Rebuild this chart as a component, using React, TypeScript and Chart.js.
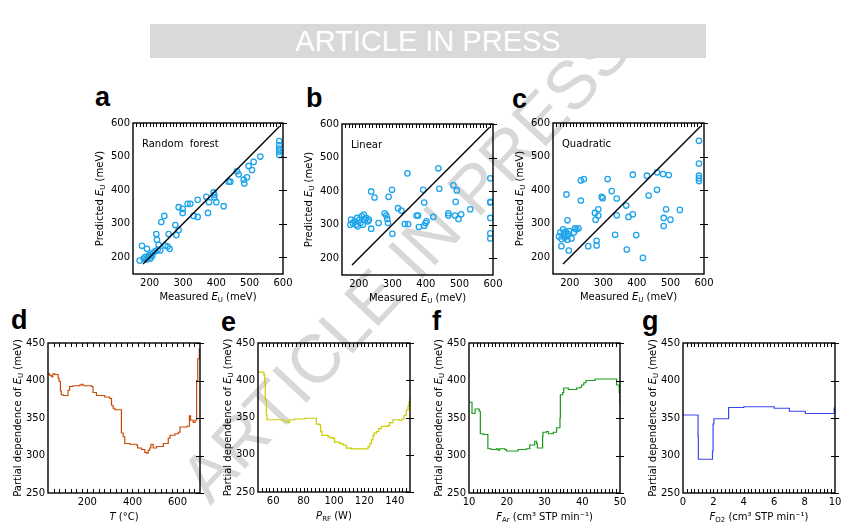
import React, { useEffect, useRef } from 'react'
import { Chart, registerables } from 'chart.js'

Chart.register(...registerables)

const FONT = '"DejaVu Sans", Verdana, sans-serif'

// a: random forest, measured vs predicted E_U (meV)
const aMeasured = [170, 182, 187, 190, 194, 197, 202, 204, 207, 210, 217, 224, 177, 192, 232, 247, 254, 260, 220, 222, 227, 235, 244, 257, 277, 280, 287, 287, 299, 299, 314, 322, 332, 344, 344, 370, 375, 378, 392, 394, 394, 400, 422, 437, 442, 462, 467, 482, 484, 492, 497, 507, 512, 532, 589, 589, 589, 589, 589]
const aPredicted = [190, 196, 201, 193, 198, 205, 196, 208, 203, 213, 218, 222, 234, 225, 220, 235, 232, 225, 269, 252, 237, 305, 323, 269, 296, 266, 281, 349, 344, 332, 359, 359, 323, 320, 371, 380, 332, 364, 393, 386, 378, 364, 352, 425, 425, 456, 447, 431, 420, 438, 472, 460, 484, 500, 546, 534, 524, 515, 505]

// b: linear
const bMeasured = [175, 177, 182, 187, 192, 195, 197, 202, 205, 209, 212, 215, 217, 222, 227, 230, 237, 247, 237, 259, 277, 282, 285, 287, 289, 299, 300, 317, 327, 345, 337, 347, 372, 377, 379, 392, 395, 395, 399, 402, 422, 437, 440, 467, 467, 482, 487, 489, 492, 497, 505, 532, 592, 592, 592, 592, 592, 592]
const bPredicted = [300, 315, 305, 310, 300, 320, 295, 315, 305, 325, 300, 330, 315, 320, 310, 315, 399, 381, 288, 305, 334, 327, 317, 305, 383, 404, 273, 349, 342, 453, 302, 302, 327, 327, 293, 404, 366, 297, 305, 310, 323, 468, 407, 334, 327, 417, 327, 368, 402, 317, 331, 346, 438, 368, 366, 320, 274, 259]

// c: quadratic
const cMeasured = [168, 172, 175, 180, 182, 185, 188, 190, 193, 195, 198, 175, 190, 193, 197, 205, 212, 215, 220, 226, 233, 242, 233, 255, 275, 277, 280, 280, 285, 285, 295, 298, 313, 325, 335, 340, 340, 368, 375, 370, 388, 388, 398, 418, 430, 435, 460, 460, 478, 495, 480, 480, 487, 500, 528, 585, 585, 585, 585, 585]
const cPredicted = [262, 274, 254, 283, 269, 259, 276, 264, 252, 269, 278, 233, 387, 310, 220, 256, 274, 286, 283, 286, 429, 433, 369, 233, 332, 312, 249, 235, 343, 324, 380, 376, 433, 397, 267, 375, 325, 354, 320, 223, 328, 446, 266, 198, 443, 384, 453, 401, 448, 445, 317, 293, 343, 312, 341, 547, 479, 443, 435, 427]

const identityLine = [180, 590]
const scatterTicks = [200, 300, 400, 500, 600]
const pdTicks = [250, 300, 350, 400, 450]

// d: partial dependence on T (°C)
const dTemp = [25, 32, 40, 47, 55, 59, 70, 74, 80, 84, 92, 107, 114, 121, 136, 166, 173, 181, 218, 225, 240, 255, 277, 299, 307, 314, 322, 344, 347, 351, 359, 366, 388, 418, 423, 440, 455, 463, 470, 477, 482, 492, 507, 515, 537, 552, 559, 567, 589, 604, 611, 641, 653, 658, 670, 678, 685, 690, 697, 700]
const dPD = [409, 407, 405, 409, 408, 408, 403, 399, 386, 381, 380, 380, 387, 392, 393, 394, 395, 393, 392, 384, 380, 380, 378, 376, 367, 363, 361, 361, 361, 330, 325, 316, 315, 314, 310, 308, 304, 303, 307, 310, 315, 310, 312, 312, 316, 316, 323, 327, 329, 331, 338, 339, 353, 347, 344, 347, 400, 429, 442, 443]
const dTicks = [200, 400, 600]

// e: partial dependence on P_RF (W)
const ePower = [50, 52.9, 53.9, 54.4, 54.8, 55.5, 55.9, 66.4, 67.5, 69.7, 70.8, 74.1, 77.4, 80.7, 87.3, 88.4, 90.6, 91.2, 92.1, 96.1, 97.1, 99.3, 100.4, 101.5, 103.7, 105.9, 108.1, 111.4, 121.3, 122.4, 123.5, 124.6, 125.7, 126.3, 127.9, 129.4, 131.1, 135.5, 136.6, 138.8, 143.2, 144.7, 146.1, 147.6, 148.7, 149.3, 150]
const ePD = [411, 411, 407, 398, 374, 353, 347, 346, 345, 343, 347, 348, 348, 349, 349, 341, 340, 331, 326, 324, 323, 322, 317, 317, 315, 313, 309, 308, 308, 311, 315, 320, 326, 329, 331, 335, 338, 339, 343, 347, 346, 348, 353, 360, 365, 371, 380]
const eTicks = [60, 80, 100, 120, 140]

// f: partial dependence on F_Ar
const fAr = [10, 10.8, 11.6, 12.7, 13.0, 13.8, 15.0, 15.9, 17.3, 17.7, 18.1, 19.5, 19.9, 23.0, 24.8, 25.2, 26.1, 27.4, 27.9, 28.1, 29.5, 29.6, 30.5, 31.0, 31.9, 32.3, 33.2, 34.1, 34.2, 34.8, 35.1, 35.8, 36.3, 38.1, 38.5, 39.4, 39.8, 40.4, 41.0, 43.4, 49.1, 49.8, 50]
const fPD = [371, 356, 362, 359, 329, 328, 309, 308, 309, 307, 309, 308, 306, 308, 308, 309, 314, 319, 316, 310, 326, 331, 332, 329, 329, 331, 337, 350, 381, 384, 390, 390, 388, 388, 390, 391, 394, 397, 400, 402, 394, 384, 368]
const fTicks = [10, 20, 30, 40, 50]

// g: partial dependence on F_O2
const gO2 = [0, 0.99, 1.01, 1.94, 1.98, 2.03, 3.0, 4.0, 6.0, 7.0, 8.05, 9.95, 10]
const gPD = [354, 325, 295, 306, 342, 349, 364, 365, 363, 359, 356, 363, 365]
const gTicks = [0, 2, 4, 6, 8, 10]

type Seg = { t: string; it?: boolean; sub?: boolean }

const EU: Seg[] = [{ t: 'E', it: true }, { t: 'U', sub: true }]
const meas: Seg[] = [{ t: 'Measured ' }, ...EU, { t: ' (meV)' }]
const pred: Seg[] = [{ t: 'Predicted ' }, ...EU, { t: ' (meV)' }]
const partial: Seg[] = [{ t: 'Partial dependence of ' }, ...EU, { t: ' (meV)' }]

const TXT = 10

function segFont(s: Seg) {
  return `${s.it ? 'italic ' : ''}${s.sub ? 7 : TXT}px ${FONT}`
}

function drawRich(ctx: CanvasRenderingContext2D, segs: Seg[], cx: number, cy: number) {
  let w = 0
  for (const s of segs) { ctx.font = segFont(s); w += ctx.measureText(s.t).width }
  let x = cx - w / 2
  ctx.textAlign = 'left'
  ctx.textBaseline = 'middle'
  for (const s of segs) {
    ctx.font = segFont(s)
    ctx.fillText(s.t, x, cy + (s.sub ? 3 : 0))
    x += ctx.measureText(s.t).width
  }
}

// tick positions for the inward minor ticks
function minorSteps(min: number, max: number, step: number) {
  const out: number[] = []
  const n = Math.round((max - min) / step)
  for (let i = 1; i < n; i++) out.push(min + i * step)
  return out
}

type Frame = {
  minor: number[]
  bottomMinor: boolean
  yTicks: number[]
  xTitle: Seg[]
  yTitle: Seg[]
  xTitleOff: number
  yTitleOff: number
  inner?: string
}

// box, inward minor ticks, crossing ticks on the right, axis titles
function framePlugin(o: Frame) {
  return {
    id: 'frame',
    afterDraw(chart: any) {
      const ctx: CanvasRenderingContext2D = chart.ctx
      const { left, top, right, bottom } = chart.chartArea
      const xsc = chart.scales.x
      const ysc = chart.scales.y
      ctx.save()
      ctx.strokeStyle = '#000'
      ctx.lineWidth = 1
      ctx.beginPath()
      for (const v of o.minor) {
        const px = Math.round(xsc.getPixelForValue(v)) + 0.5
        ctx.moveTo(px, top)
        ctx.lineTo(px, top + 4)
      }
      ctx.stroke()
      if (o.bottomMinor) {
        ctx.beginPath()
        for (const v of o.minor) {
          const px = Math.round(xsc.getPixelForValue(v)) + 0.5
          ctx.moveTo(px, bottom)
          ctx.lineTo(px, bottom - 4)
        }
        ctx.stroke()
      }
      ctx.beginPath()
      for (const v of o.yTicks) {
        const py = Math.round(ysc.getPixelForValue(v)) + 0.5
        ctx.moveTo(right - 4, py)
        ctx.lineTo(right + 4, py)
      }
      ctx.stroke()
      ctx.lineWidth = 1.4
      ctx.strokeRect(left, top, right - left, bottom - top)
      ctx.fillStyle = '#000'
      drawRich(ctx, o.xTitle, (left + right) / 2, bottom + o.xTitleOff)
      if (o.inner) {
        ctx.font = `${TXT}px ${FONT}`
        ctx.textAlign = 'left'
        ctx.textBaseline = 'middle'
        ctx.fillText(o.inner, left + 9, top + 21)
      }
      ctx.translate(left - o.yTitleOff, (top + bottom) / 2)
      ctx.rotate(-Math.PI / 2)
      drawRich(ctx, o.yTitle, 0, 0)
      ctx.restore()
    }
  }
}

const PAD_L = 50, PAD_T = 10, PAD_R = 15, PAD_B = 40

function axis(min: number, max: number, ticks: number[], isX: boolean) {
  return {
    type: 'linear',
    min, max,
    afterBuildTicks: (s: any) => { s.ticks = ticks.map(v => ({ value: v })) },
    afterFit: (s: any) => {
      if (isX) s.height = PAD_B; else s.width = PAD_L
      s.paddingLeft = 0; s.paddingRight = 0; s.paddingTop = 0; s.paddingBottom = 0
    },
    grid: { display: false, drawTicks: false },
    border: { display: false },
    ticks: { padding: 3, color: '#000', font: { family: FONT, size: TXT }, maxRotation: 0, autoSkip: false }
  }
}

type Opts = {
  datasets: any[]
  x: [number, number, number[]]
  y: [number, number, number[]]
  frame: Frame
}

function makeConfig(type: string, o: Opts) {
  return {
    type,
    data: { datasets: o.datasets },
    options: {
      responsive: false,
      animation: false,
      events: [],
      layout: { padding: { left: 0, top: PAD_T, right: PAD_R, bottom: 0 } },
      scales: {
        x: axis(o.x[0], o.x[1], o.x[2], true),
        y: axis(o.y[0], o.y[1], o.y[2], false)
      },
      plugins: { legend: { display: false }, tooltip: { enabled: false } }
    },
    plugins: [framePlugin(o.frame)]
  }
}

function scatterConfig(xs: number[], ys: number[], label: string) {
  return makeConfig('scatter', {
    datasets: [
      { type: 'line', data: identityLine.map(v => ({ x: v, y: v })), borderColor: '#000', borderWidth: 1.4, pointRadius: 0 },
      { type: 'scatter', data: xs.map((x, i) => ({ x, y: ys[i] })), pointRadius: 2.7, pointBorderWidth: 1.3, borderColor: '#1ea4ea', backgroundColor: 'rgba(0,0,0,0)' }
    ],
    x: [150, 600, scatterTicks],
    y: [150, 600, scatterTicks],
    frame: { minor: minorSteps(150, 600, 10), bottomMinor: false, yTicks: scatterTicks, xTitle: meas, yTitle: pred, xTitleOff: 23, yTitleOff: 33, inner: label }
  })
}

function pdConfig(xs: number[], ys: number[], color: string, xmin: number, xmax: number, ticks: number[], step: number, xTitle: Seg[]) {
  return makeConfig('line', {
    datasets: [
      { data: xs.map((x, i) => ({ x, y: ys[i] })), stepped: 'before', borderColor: color, borderWidth: 1.2, pointRadius: 0, fill: false }
    ],
    x: [xmin, xmax, ticks],
    y: [250, 450, pdTicks],
    frame: { minor: minorSteps(xmin, xmax, step), bottomMinor: true, yTicks: pdTicks, xTitle, yTitle: partial, xTitleOff: 24, yTitleOff: 30 }
  })
}

function Panel({ rect, make }: { rect: number[]; make: () => any }) {
  const ref = useRef<HTMLCanvasElement | null>(null)
  useEffect(() => {
    const c = ref.current
    if (!c) return
    const chart = new Chart(c, make())
    return () => chart.destroy()
  }, [])
  const [L, T, R, B] = rect
  const w = R - L + PAD_L + PAD_R
  const h = B - T + PAD_T + PAD_B
  return <canvas ref={ref} width={w} height={h} style={{ position: 'absolute', left: L - PAD_L, top: T - PAD_T, width: w, height: h }} />
}

const letter = (ch: string, x: number, base: number) => (
  <div key={ch} style={{ position: 'absolute', left: x, top: base - 23, fontFamily: '"Liberation Sans", Arial, sans-serif', fontWeight: 'bold', fontSize: 27, lineHeight: '27px', color: '#000' }}>{ch}</div>
)

export default function App() {
  return (
    <div style={{ position: 'absolute', left: 0, top: 0, width: 856, height: 530, background: '#fff', overflow: 'hidden' }}>
      <div style={{ position: 'absolute', left: 405, top: 262, transform: 'translate(-50%, -50%) rotate(-47deg)', fontFamily: '"Liberation Sans", Arial, sans-serif', fontSize: 68, lineHeight: '68px', color: '#d8d8d8', whiteSpace: 'nowrap' }}>ARTICLE IN PRESS</div>
      <div style={{ position: 'absolute', left: 150, top: 24, width: 556, height: 34, background: '#d9d9d9', color: '#fff', fontFamily: '"Liberation Sans", Arial, sans-serif', fontSize: 29, lineHeight: '34px', textAlign: 'center' }}>ARTICLE IN PRESS</div>
      {letter('a', 95, 107)}
      {letter('b', 306, 108)}
      {letter('c', 512, 109)}
      {letter('d', 11, 330)}
      {letter('e', 221, 332)}
      {letter('f', 432, 331)}
      {letter('g', 642, 331)}
      <Panel rect={[133, 123, 283, 274]} make={() => scatterConfig(aMeasured, aPredicted, 'Random  forest')} />
      <Panel rect={[342, 124, 493, 275]} make={() => scatterConfig(bMeasured, bPredicted, 'Linear')} />
      <Panel rect={[553, 123, 704, 274]} make={() => scatterConfig(cMeasured, cPredicted, 'Quadratic')} />
      <Panel rect={[48, 343, 200, 493]} make={() => pdConfig(dTemp, dPD, '#cc4a06', 25, 700, dTicks, 25, [{ t: 'T', it: true }, { t: ' (°C)' }])} />
      <Panel rect={[258, 343, 410, 492]} make={() => pdConfig(ePower, ePD, '#cccc00', 50, 150, eTicks, 2.5, [{ t: 'P', it: true }, { t: 'RF', sub: true }, { t: ' (W)' }])} />
      <Panel rect={[469, 343, 620, 493]} make={() => pdConfig(fAr, fPD, '#1a9a1a', 10, 50, fTicks, 1, [{ t: 'F', it: true }, { t: 'Ar', sub: true }, { t: ' (cm³ STP min⁻¹)' }])} />
      <Panel rect={[683, 343, 835, 493]} make={() => pdConfig(gO2, gPD, '#3a48f2', 0, 10, gTicks, 0.25, [{ t: 'F', it: true }, { t: 'O2', sub: true }, { t: ' (cm³ STP min⁻¹)' }])} />
    </div>
  )
}
